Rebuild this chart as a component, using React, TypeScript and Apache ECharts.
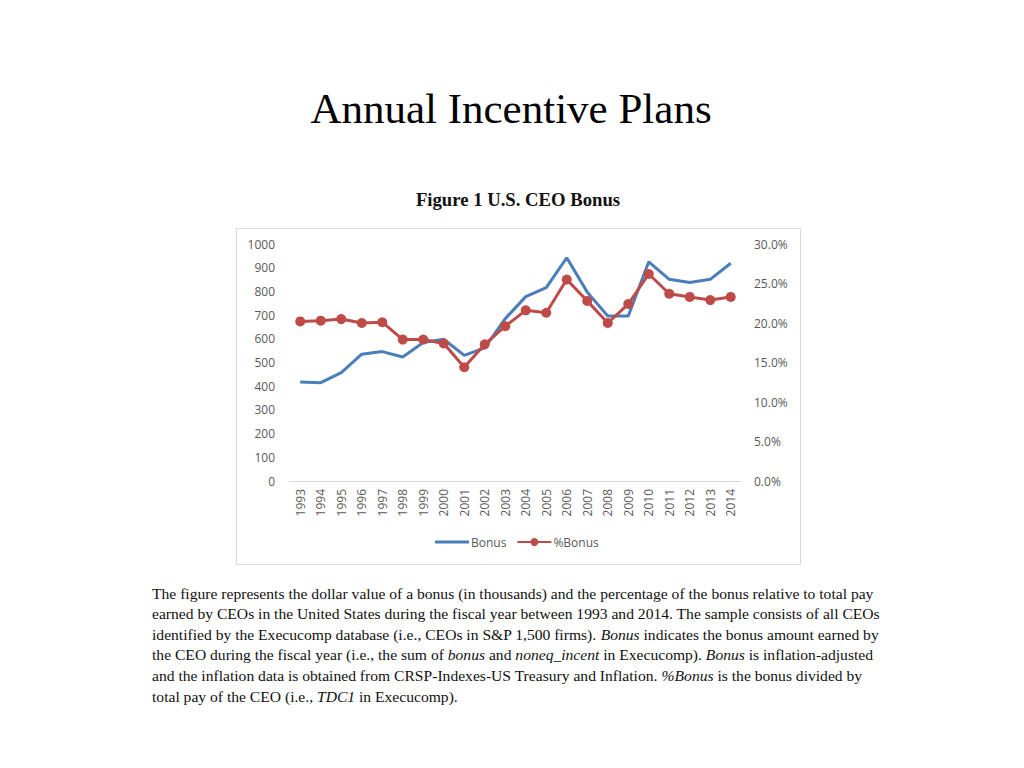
import { useEffect, useRef } from 'react';
import * as echarts from 'echarts';

const years = [
  '1993', '1994', '1995', '1996', '1997', '1998', '1999', '2000', '2001', '2002', '2003',
  '2004', '2005', '2006', '2007', '2008', '2009', '2010', '2011', '2012', '2013', '2014',
];
// bonus in $ thousands (left axis)
const bonus = [418, 415, 457, 535, 546, 523, 584, 598, 530, 562, 685, 778, 816, 942, 797, 696, 696, 925, 851, 838, 851, 919];
// bonus as % of total pay (right axis)
const pctBonus = [20.2, 20.3, 20.5, 20.0, 20.1, 17.9, 17.9, 17.4, 14.4, 17.3, 19.6, 21.6, 21.3, 25.5, 22.8, 20.0, 22.4, 26.2, 23.7, 23.3, 22.9, 23.3];

const pageTitle = 'Annual Incentive Plans';
const figureTitle = 'Figure 1 U.S. CEO Bonus';

// caption lines, segments marked i are italic
const captionLines: [string, string][][] = [
  [['n', 'The figure represents the dollar value of a bonus (in thousands) and the percentage of the bonus relative to total pay']],
  [['n', 'earned by CEOs in the United States during the fiscal year between 1993 and 2014. The sample consists of all CEOs']],
  [['n', 'identified by the Execucomp database (i.e., CEOs in S&P 1,500 firms). '], ['i', 'Bonus'], ['n', ' indicates the bonus amount earned by']],
  [['n', 'the CEO during the fiscal year (i.e., the sum of '], ['i', 'bonus'], ['n', ' and '], ['i', 'noneq_incent'], ['n', ' in Execucomp). '], ['i', 'Bonus'], ['n', ' is inflation-adjusted']],
  [['n', 'and the inflation data is obtained from CRSP-Indexes-US Treasury and Inflation. '], ['i', '%Bonus'], ['n', ' is the bonus divided by']],
  [['n', 'total pay of the CEO (i.e., '], ['i', 'TDC1'], ['n', ' in Execucomp).']],
];

const SERIF = '"Liberation Serif", "Times New Roman", serif';
const SANS = '"Open Sans", sans-serif';
const AXIS_TEXT = '#595959';
const CAPTION_SIZE = 15.6;
const BLUE = '#4a7ebb';
const RED = '#be4b48';

// plain thick line for the Bonus legend entry (moveTo points keep the full icon box)
const LINE_ICON = 'path://M0,0L0,0M0,10L0,10M0,3.6L34,3.6L34,6.4L0,6.4Z';

export default function App() {
  const ref = useRef<HTMLDivElement>(null);

  useEffect(() => {
    if (!ref.current) return;
    const chart = echarts.init(ref.current, null, { renderer: 'svg' });

    const captionGraphics = captionLines.map((line, i) => ({
      type: 'text',
      x: 152,
      y: 593 + i * 20.6,
      style: {
        text: line.map(([k, s]) => `{${k}|${s}}`).join(''),
        verticalAlign: 'middle',
        fill: '#111',
        fontFamily: SERIF,
        fontSize: CAPTION_SIZE,
        rich: {
          n: { fontFamily: SERIF, fontSize: CAPTION_SIZE, fill: '#111' },
          i: { fontFamily: SERIF, fontSize: CAPTION_SIZE, fontStyle: 'italic', fill: '#111' },
        },
      },
    }));

    chart.setOption({
      animation: false,
      backgroundColor: '#fff',
      title: [
        {
          text: pageTitle,
          left: 506,
          textAlign: 'center',
          top: 82,
          textStyle: { fontFamily: SERIF, fontSize: 43, fontWeight: 'normal', color: '#000' },
        },
        {
          text: figureTitle,
          left: 513,
          textAlign: 'center',
          top: 185,
          textStyle: { fontFamily: SERIF, fontSize: 18.7, fontWeight: 'bold', color: '#111' },
        },
      ],
      graphic: [
        {
          type: 'rect',
          shape: { x: 236.5, y: 228.5, width: 564, height: 336 },
          style: { fill: 'none', stroke: '#d9d9d9', lineWidth: 1 },
          silent: true,
        },
        ...captionGraphics,
      ],
      legend: {
        top: 531,
        left: 430,
        itemWidth: 34,
        itemHeight: 10,
        itemGap: 10,
        textStyle: { color: AXIS_TEXT, fontFamily: SANS, fontSize: 12, padding: [0, 0, 0, -3] },
        data: [
          { name: 'Bonus', icon: LINE_ICON, itemStyle: { color: BLUE } },
          { name: '%Bonus' },
        ],
      },
      grid: { left: 290, top: 244, width: 451, height: 237 },
      xAxis: {
        type: 'category',
        data: years,
        boundaryGap: true,
        axisLine: { lineStyle: { color: '#d9d9d9', width: 1 } },
        axisTick: { show: false },
        axisLabel: { rotate: 90, color: AXIS_TEXT, fontFamily: SANS, fontSize: 12, margin: 8, interval: 0 },
      },
      yAxis: [
        {
          type: 'value',
          min: 0,
          max: 1000,
          interval: 100,
          axisLine: { show: false },
          axisTick: { show: false },
          splitLine: { show: false },
          axisLabel: {
            color: AXIS_TEXT,
            fontFamily: SANS,
            fontSize: 12,
            margin: 15,
            formatter: (v: number) => String(v),
          },
        },
        {
          type: 'value',
          min: 0,
          max: 30,
          interval: 5,
          position: 'right',
          axisLine: { show: false },
          axisTick: { show: false },
          splitLine: { show: false },
          axisLabel: {
            color: AXIS_TEXT,
            fontFamily: SANS,
            fontSize: 12,
            margin: 13,
            formatter: (v: number) => v.toFixed(1) + '%',
          },
        },
      ],
      series: [
        {
          name: 'Bonus',
          type: 'line',
          yAxisIndex: 0,
          data: bonus,
          symbol: 'none',
          lineStyle: { color: BLUE, width: 3 },
          itemStyle: { color: BLUE },
        },
        {
          name: '%Bonus',
          type: 'line',
          yAxisIndex: 1,
          data: pctBonus,
          symbol: 'circle',
          symbolSize: 10,
          lineStyle: { color: RED, width: 3 },
          itemStyle: { color: RED },
        },
      ],
    });

    return () => {
      chart.dispose();
    };
  }, []);

  return (
    <div
      ref={ref}
      style={{ position: 'absolute', left: 0, top: 0, width: 1024, height: 768, background: '#fff' }}
    />
  );
}
